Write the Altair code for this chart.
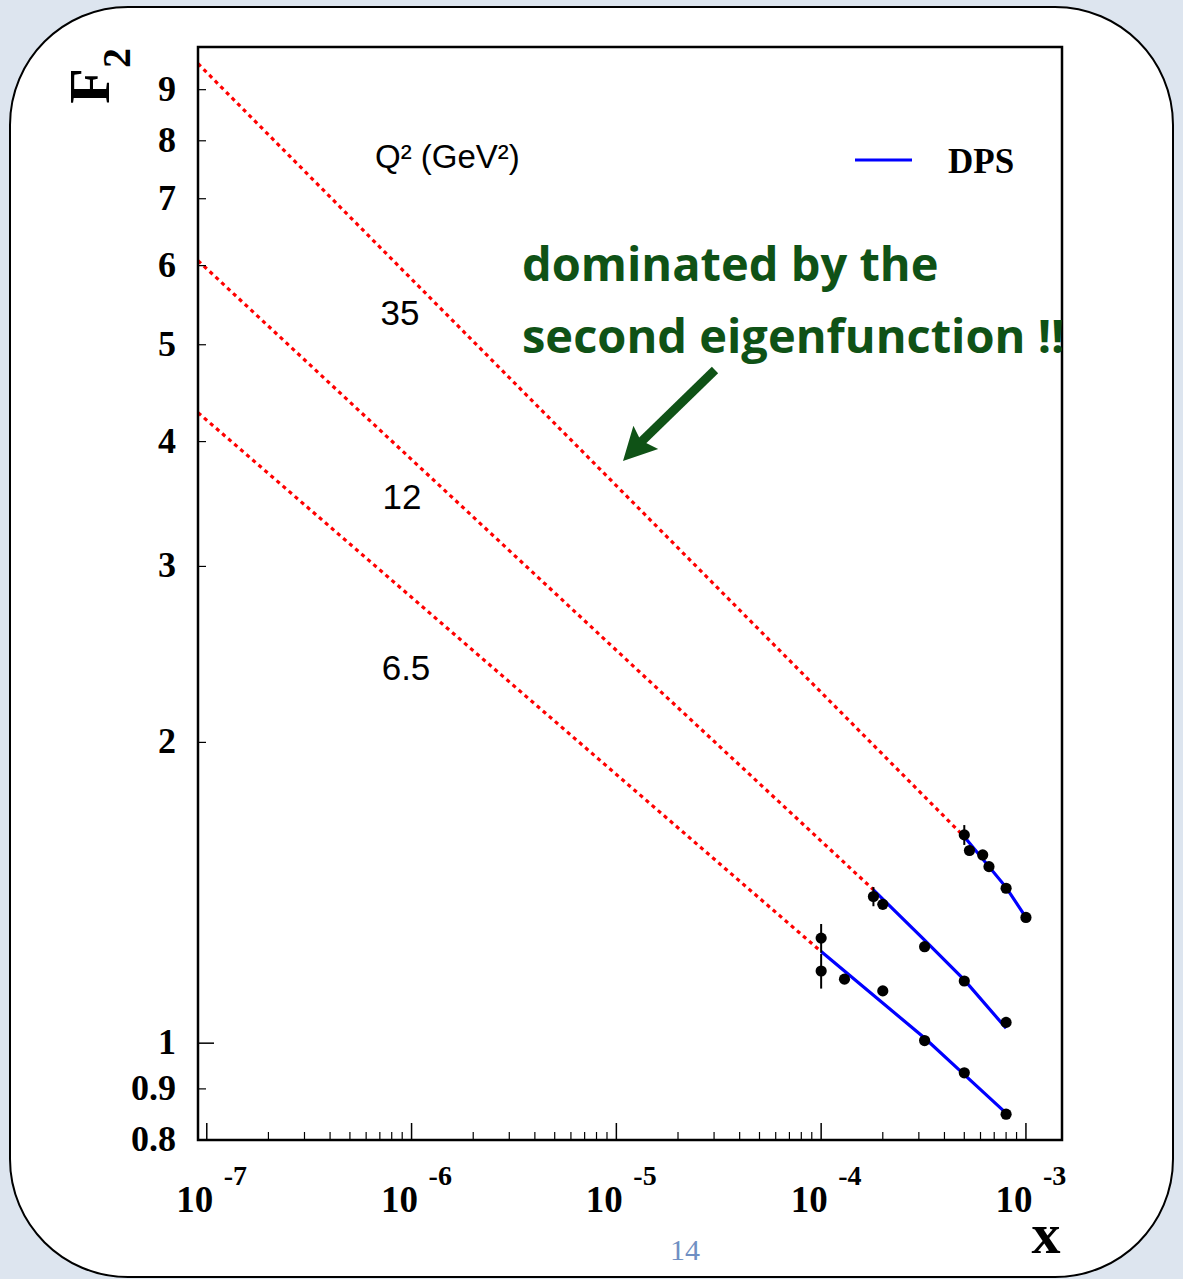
import altair as alt
import pandas as pd

# ---------------- axis ranges (log-log) ----------------
X_DOMAIN = [9.06e-8, 1.50e-3]
Y_DOMAIN = [0.8, 9.93]

# ---------------- measured F2 points, per Q^2 bin ----------------
q35_x = [5.0e-4, 5.3e-4, 6.15e-4, 6.6e-4, 8.0e-4, 1.0e-3]
q35_f2 = [1.616, 1.559, 1.543, 1.502, 1.429, 1.336]
q35_err = [0.037, 0.018, 0.015, 0.0, 0.0, 0.0]

q12_x = [1.8e-4, 2.0e-4, 3.2e-4, 5.0e-4, 8.0e-4]
q12_f2 = [1.402, 1.377, 1.249, 1.154, 1.049]
q12_err = [0.031, 0.0, 0.0, 0.0, 0.0]

q65_x = [1.0e-4, 1.0e-4, 1.3e-4, 2.0e-4, 3.2e-4, 5.0e-4, 8.0e-4]
q65_f2 = [1.274, 1.181, 1.159, 1.128, 1.006, 0.934, 0.849]
q65_err = [0.042, 0.047, 0.012, 0.0, 0.0, 0.006, 0.0]

# ---------------- DPS curves over the data range ----------------
dps35_x = [5.0e-4, 8.0e-4, 1.0e-3]
dps35_f2 = [1.609, 1.432, 1.336]
dps12_x = [1.8e-4, 3.2e-4, 5.0e-4, 8.0e-4]
dps12_f2 = [1.424, 1.268, 1.157, 1.035]
dps65_x = [1.0e-4, 3.2e-4, 5.0e-4, 8.0e-4]
dps65_f2 = [1.235, 1.012, 0.930, 0.851]

# ---------------- extrapolation to small x (straight in log-log) ----------------
ext35_x = [9.06e-8, 5.0e-4]
ext35_f2 = [9.557, 1.609]
ext12_x = [9.06e-8, 1.8e-4]
ext12_f2 = [6.07, 1.424]
ext65_x = [9.06e-8, 1.0e-4]
ext65_f2 = [4.276, 1.235]

# ---------------- ticks and labels ----------------
x_major = [1e-7, 1e-6, 1e-5, 1e-4, 1e-3]
x_exponents = ["-7", "-6", "-5", "-4", "-3"]
x_minor = [k * 10.0 ** n for n in range(-7, -3) for k in range(2, 10)]
y_major = [1.0]
y_minor = [0.9, 2, 3, 4, 5, 6, 7, 8, 9]
y_labels = [0.8, 0.9, 1, 2, 3, 4, 5, 6, 7, 8, 9]

Q2_BINS = ["35", "12", "6.5"]

# ---------------- layout (pixels) ----------------
W, H = 864, 1093          # plot area
PAD_L, PAD_T = 198, 47
PAGE_W, PAGE_H = 1183, 1279

SERIF = "Liberation Serif"
SANS = "Liberation Sans"
GREEN = "#0f5216"


def px(x):
    return x - PAD_L


def py(y):
    return y - PAD_T


xs = alt.Scale(type="log", domain=X_DOMAIN, nice=False)
ys = alt.Scale(type="log", domain=Y_DOMAIN, nice=False)


def X(field="x"):
    return alt.X(f"{field}:Q", scale=xs, axis=None)


def Y(field="f2"):
    return alt.Y(f"{field}:Q", scale=ys, axis=None)


def frame(xs_, fs, label):
    return pd.DataFrame({"x": xs_, "f2": fs, "q2": label})


points = pd.concat([
    pd.DataFrame({"x": q35_x, "f2": q35_f2, "err": q35_err, "q2": "35"}),
    pd.DataFrame({"x": q12_x, "f2": q12_f2, "err": q12_err, "q2": "12"}),
    pd.DataFrame({"x": q65_x, "f2": q65_f2, "err": q65_err, "q2": "6.5"}),
], ignore_index=True)
points["lo"] = points["f2"] - points["err"]
points["hi"] = points["f2"] + points["err"]
errs = points[points["err"] > 0]

dps = pd.concat([frame(dps35_x, dps35_f2, "35"),
                 frame(dps12_x, dps12_f2, "12"),
                 frame(dps65_x, dps65_f2, "6.5")], ignore_index=True)
ext = pd.concat([frame(ext35_x, ext35_f2, "35"),
                 frame(ext12_x, ext12_f2, "12"),
                 frame(ext65_x, ext65_f2, "6.5")], ignore_index=True)

one = pd.DataFrame({"a": [0]})

# white rounded page card
card = alt.Chart(one).mark_rect(
    cornerRadius=118, fill="white", stroke="black", strokeWidth=2
).encode(
    x=alt.value(px(10)), x2=alt.value(px(1173)),
    y=alt.value(py(7)), y2=alt.value(py(1277)),
)

ext_lines = alt.Chart(ext).mark_line(
    color="#ff0000", strokeWidth=3.2, strokeDash=[4, 4]
).encode(x=X(), y=Y(), detail="q2:N")

dps_lines = alt.Chart(dps).mark_line(color="#0000ff", strokeWidth=3.2).encode(
    x=X(), y=Y(), detail="q2:N"
)

err_bars = alt.Chart(errs).mark_rule(color="black", strokeWidth=2).encode(
    x=X(), y=Y("lo"), y2=alt.Y2("hi:Q")
)

dots = alt.Chart(points).mark_circle(color="black", size=125, opacity=1).encode(
    x=X(), y=Y()
)

# ticks drawn inward from the axes
xt_major = alt.Chart(pd.DataFrame({"x": x_major})).mark_rule(
    color="black", strokeWidth=1.5
).encode(x=X(), y=alt.value(H), y2=alt.value(H - 17))
xt_minor = alt.Chart(pd.DataFrame({"x": x_minor})).mark_rule(
    color="black", strokeWidth=1.2
).encode(x=X(), y=alt.value(H), y2=alt.value(H - 8))
yt_major = alt.Chart(pd.DataFrame({"f2": y_major})).mark_rule(
    color="black", strokeWidth=1.5
).encode(y=Y(), x=alt.value(0), x2=alt.value(16))
yt_minor = alt.Chart(pd.DataFrame({"f2": y_minor})).mark_rule(
    color="black", strokeWidth=1.2
).encode(y=Y(), x=alt.value(0), x2=alt.value(8))

plot_box = alt.Chart(one).mark_rect(
    fill="white", fillOpacity=0, stroke="black", strokeWidth=2.5
).encode(x=alt.value(0), x2=alt.value(W), y=alt.value(0), y2=alt.value(H))

# tick labels
ylab = alt.Chart(pd.DataFrame({"f2": y_labels, "t": [f"{v:g}" for v in y_labels]})).mark_text(
    font=SERIF, fontWeight="bold", fontSize=36, align="right", baseline="middle"
).encode(y=Y(), x=alt.value(px(176)), text="t:N")

xlab_df = pd.DataFrame({"x": x_major, "base": "10", "exp": x_exponents})
xlab_base = alt.Chart(xlab_df).mark_text(
    font=SERIF, fontWeight="bold", fontSize=37, align="center", baseline="middle", dx=-12
).encode(x=X(), y=alt.value(py(1201)), text="base:N")
xlab_exp = alt.Chart(xlab_df).mark_text(
    font=SERIF, fontWeight="bold", fontSize=28, align="left", baseline="middle", dx=17
).encode(x=X(), y=alt.value(py(1177)), text="exp:N")


def label(text, x, y, **kw):
    return alt.Chart(one).mark_text(**kw).encode(
        x=alt.value(px(x)), y=alt.value(py(y)), text=alt.value(text)
    )


# axis titles
f_title = label("F", 92, 86, font=SERIF, fontWeight="bold", fontSize=58,
                angle=270, align="center", baseline="middle")
f_sub = label("2", 118, 58, font=SERIF, fontWeight="bold", fontSize=40,
              angle=270, align="center", baseline="middle")
x_title = label("x", 1046, 1236, font=SERIF, fontWeight="bold", fontSize=58,
                align="center", baseline="middle")

# Q^2 bin annotations
q_head = label("Q² (GeV²)", 375, 158, font=SANS, fontSize=33,
               align="left", baseline="middle")
bin_pos = {"35": (400, 314), "12": (402, 498), "6.5": (406, 669)}
bin_labels = [label(b, *bin_pos[b], font=SANS, fontSize=35,
                    align="center", baseline="middle") for b in Q2_BINS]

# legend
leg_line = alt.Chart(one).mark_rule(color="#0000ff", strokeWidth=3).encode(
    x=alt.value(px(855)), x2=alt.value(px(912)), y=alt.value(py(160))
)
leg_text = label("DPS", 948, 162, font=SERIF, fontWeight="bold", fontSize=35,
                 align="left", baseline="middle")

# comment + arrow
note1 = label("dominated by the", 522, 281, font="Open Sans", fontWeight="bold",
              fontSize=47, color=GREEN, align="left", baseline="alphabetic")
note2 = label("second eigenfunction !!", 522, 353, font="Open Sans", fontWeight="bold",
              fontSize=47, color=GREEN, align="left", baseline="alphabetic")
arrow_shaft = alt.Chart(one).mark_rule(color=GREEN, strokeWidth=9, strokeCap="butt").encode(
    x=alt.value(px(715)), y=alt.value(py(370)),
    x2=alt.value(px(641)), y2=alt.value(py(442)),
)
arrow_head = alt.Chart(one).mark_point(
    shape="M0,0L0.26,-0.88L0.44,-0.52L0.88,-0.3Z",
    size=6400, filled=True, fill=GREEN, opacity=1, strokeWidth=0,
).encode(x=alt.value(px(623)), y=alt.value(py(461)))

page_no = label("14", 685, 1251, font=SERIF, fontSize=30, color="#6f8fc3",
                align="center", baseline="middle")

chart = alt.layer(
    card, ext_lines, dps_lines, err_bars, dots,
    xt_major, xt_minor, yt_major, yt_minor, plot_box,
    ylab, xlab_base, xlab_exp, f_title, f_sub, x_title,
    q_head, *bin_labels, leg_line, leg_text,
    note1, note2, arrow_shaft, arrow_head, page_no,
).properties(
    width=W, height=H,
    padding={"left": PAD_L, "top": PAD_T,
             "right": PAGE_W - PAD_L - W, "bottom": PAGE_H - PAD_T - H},
    autosize=alt.AutoSizeParams(type="none"),
    background="#dde5ef",
).configure_view(strokeWidth=0)

chart.save("out.html", embed_options={"renderer": "svg", "actions": False})
